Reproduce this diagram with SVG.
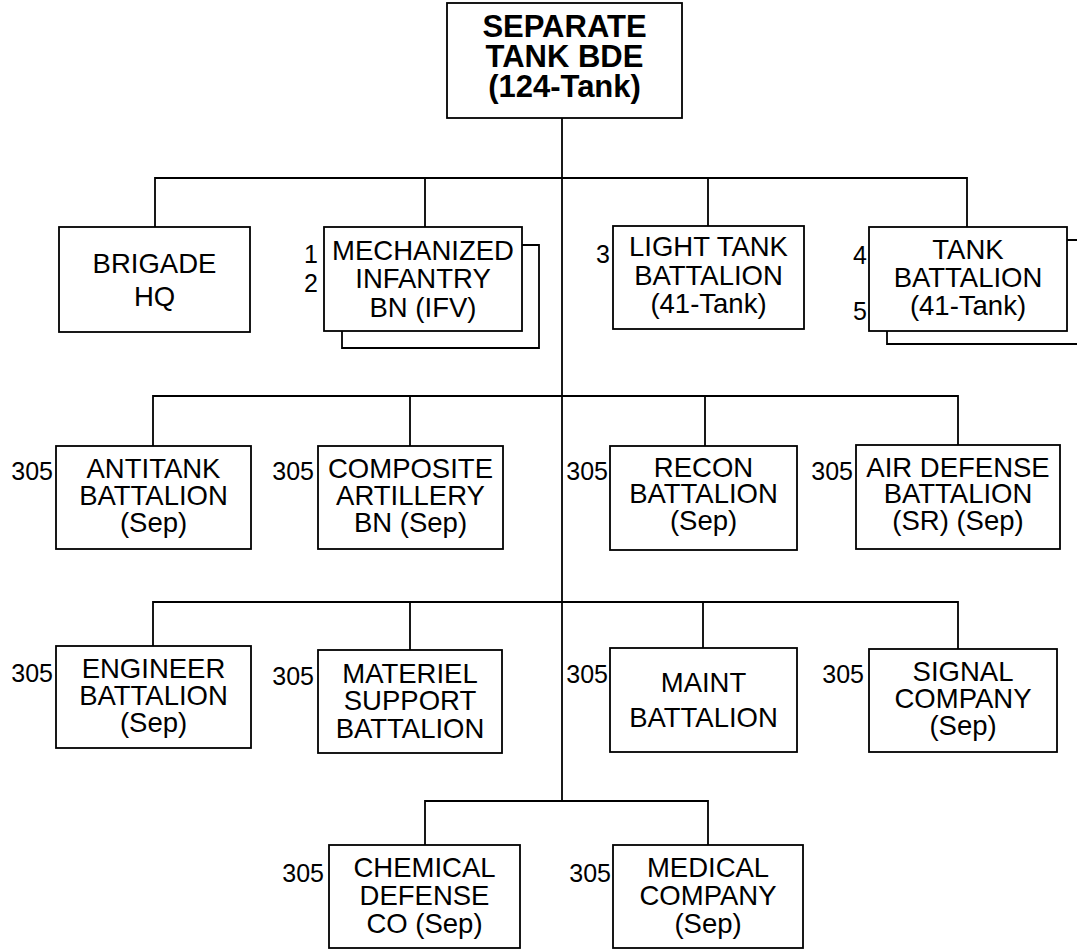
<svg xmlns="http://www.w3.org/2000/svg" width="1077" height="950" viewBox="0 0 1077 950">
<style>
.box{fill:#fff;stroke:#000;stroke-width:1.8}
.sh{fill:none;stroke:#000;stroke-width:1.8}
.ln{fill:none;stroke:#000;stroke-width:1.8}
.t{font-family:"Liberation Sans",Arial,sans-serif;font-size:27.5px;text-anchor:middle;fill:#000}
.tb{font-family:"Liberation Sans",Arial,sans-serif;font-size:31px;font-weight:bold;text-anchor:middle;fill:#000}
.n{font-family:"Liberation Sans",Arial,sans-serif;font-size:25px;text-anchor:end;fill:#000}
</style>
<rect width="1077" height="950" fill="#fff"/>
<g id="connectors" class="ln">
<path d="M562,118 V801"/>
<path d="M155,227 V178 H967 V227 M425,178 V227 M708,178 V226"/>
<path d="M153,446 V396 H958 V445 M410,396 V446 M705,396 V446"/>
<path d="M153,646 V602 H958 V649 M410,602 V650 M703,602 V648"/>
<path d="M425,845 V801 H708 V845"/>
</g>
<g id="n-top"><rect class="box" x="447" y="3" width="235" height="115"/>
<text class="tb" x="564.5" y="37">SEPARATE</text><text class="tb" x="564.5" y="67">TANK BDE</text><text class="tb" x="564.5" y="97">(124-Tank)</text></g>
<g id="n-hq"><rect class="box" x="59" y="227" width="191" height="105"/>
<text class="t" x="154.5" y="273">BRIGADE</text><text class="t" x="154.5" y="306">HQ</text></g>
<g id="n-mech"><path class="sh" d="M522,245 H539 V348 H342 V331"/><rect class="box" x="324" y="227" width="198" height="104"/>
<text class="t" x="423" y="260">MECHANIZED</text><text class="t" x="423" y="288">INFANTRY</text><text class="t" x="423" y="317">BN (IFV)</text>
<text class="n" x="318" y="263">1</text><text class="n" x="318" y="292">2</text></g>
<g id="n-light"><rect class="box" x="613" y="226" width="191" height="103"/>
<text class="t" x="708.5" y="256">LIGHT TANK</text><text class="t" x="708.5" y="285">BATTALION</text><text class="t" x="708.5" y="313">(41-Tank)</text>
<text class="n" x="610" y="263">3</text></g>
<g id="n-tank"><path class="sh" d="M1067,240 H1090 V344 H887 V331"/><rect class="box" x="869" y="227" width="198" height="104"/>
<text class="t" x="968" y="259">TANK</text><text class="t" x="968" y="287">BATTALION</text><text class="t" x="968" y="315">(41-Tank)</text>
<text class="n" x="867" y="264">4</text><text class="n" x="867" y="320">5</text></g>
<g id="n-at"><rect class="box" x="56" y="446" width="195" height="103"/>
<text class="t" x="153.5" y="478">ANTITANK</text><text class="t" x="153.5" y="505">BATTALION</text><text class="t" x="153.5" y="532">(Sep)</text>
<text class="n" x="53" y="480">305</text></g>
<g id="n-art"><rect class="box" x="318" y="446" width="185" height="103"/>
<text class="t" x="410.5" y="478">COMPOSITE</text><text class="t" x="410.5" y="505">ARTILLERY</text><text class="t" x="410.5" y="532">BN (Sep)</text>
<text class="n" x="314" y="480">305</text></g>
<g id="n-recon"><rect class="box" x="610" y="446" width="187" height="104"/>
<text class="t" x="703.5" y="477">RECON</text><text class="t" x="703.5" y="503">BATTALION</text><text class="t" x="703.5" y="530">(Sep)</text>
<text class="n" x="608" y="480">305</text></g>
<g id="n-ad"><rect class="box" x="856" y="445" width="204" height="104"/>
<text class="t" x="958" y="477">AIR DEFENSE</text><text class="t" x="958" y="503">BATTALION</text><text class="t" x="958" y="530">(SR) (Sep)</text>
<text class="n" x="853" y="480">305</text></g>
<g id="n-eng"><rect class="box" x="56" y="646" width="195" height="102"/>
<text class="t" x="153.5" y="678">ENGINEER</text><text class="t" x="153.5" y="705">BATTALION</text><text class="t" x="153.5" y="732">(Sep)</text>
<text class="n" x="53" y="682">305</text></g>
<g id="n-mat"><rect class="box" x="318" y="650" width="184" height="103"/>
<text class="t" x="410" y="683">MATERIEL</text><text class="t" x="410" y="710">SUPPORT</text><text class="t" x="410" y="738">BATTALION</text>
<text class="n" x="314" y="685">305</text></g>
<g id="n-maint"><rect class="box" x="610" y="648" width="187" height="104"/>
<text class="t" x="703.5" y="692">MAINT</text><text class="t" x="703.5" y="727">BATTALION</text>
<text class="n" x="608" y="683">305</text></g>
<g id="n-sig"><rect class="box" x="869" y="649" width="188" height="103"/>
<text class="t" x="963" y="681">SIGNAL</text><text class="t" x="963" y="708">COMPANY</text><text class="t" x="963" y="735">(Sep)</text>
<text class="n" x="864" y="683">305</text></g>
<g id="n-chem"><rect class="box" x="329" y="845" width="191" height="103"/>
<text class="t" x="424.5" y="877">CHEMICAL</text><text class="t" x="424.5" y="905">DEFENSE</text><text class="t" x="424.5" y="933">CO (Sep)</text>
<text class="n" x="324" y="882">305</text></g>
<g id="n-med"><rect class="box" x="613" y="845" width="190" height="103"/>
<text class="t" x="708" y="877">MEDICAL</text><text class="t" x="708" y="905">COMPANY</text><text class="t" x="708" y="933">(Sep)</text>
<text class="n" x="611" y="882">305</text></g>
</svg>
